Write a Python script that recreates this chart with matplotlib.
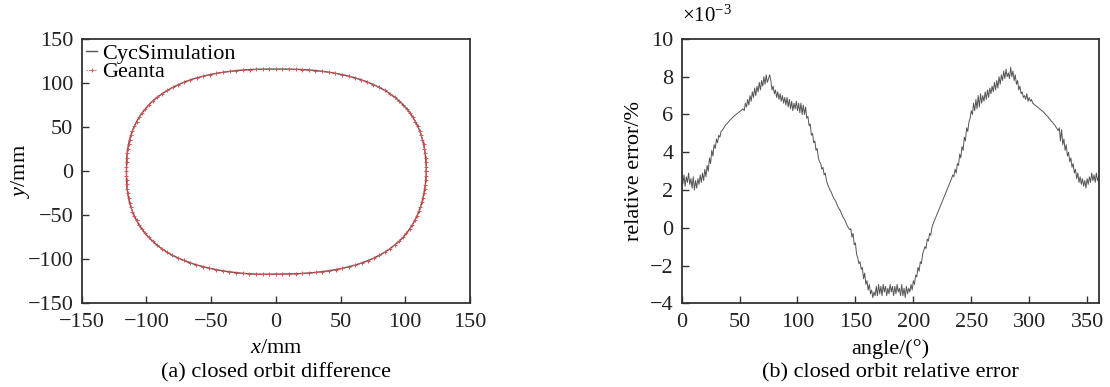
import numpy as np
import matplotlib
matplotlib.use("Agg")
import matplotlib.pyplot as plt

plt.rcParams['font.family'] = ['Liberation Serif', 'DejaVu Serif']
plt.rcParams['mathtext.fontset'] = 'custom'
plt.rcParams['mathtext.rm'] = 'Liberation Serif'
plt.rcParams['mathtext.it'] = 'Liberation Serif:italic'
plt.rcParams['axes.unicode_minus'] = True

# closed orbit radius (mm) every 2.5 degrees, 0 .. 357.5
orbit_theta = np.arange(0, 360, 2.5)
orbit_r = [
    116.2, 116.3, 116.4, 116.7, 117.1, 117.6, 118.2, 118.8, 119.5, 120.2,
    120.9, 121.6, 122.3, 122.9, 123.4, 123.8, 124.2, 124.4, 124.5, 124.4,
    124.2, 123.8, 123.4, 122.9, 122.3, 121.6, 120.9, 120.2, 119.5, 118.8,
    118.2, 117.6, 117.1, 116.6, 116.2, 115.9, 115.8, 115.9, 116.2, 116.6,
    117.0, 117.5, 118.1, 118.7, 119.4, 120.1, 120.8, 121.5, 122.2, 122.8,
    123.3, 123.7, 124.0, 124.2, 124.3, 124.2, 124.0, 123.6, 123.1, 122.6,
    122.0, 121.3, 120.6, 119.9, 119.2, 118.5, 117.8, 117.2, 116.7, 116.2,
    115.8, 115.5, 115.4, 115.5, 115.8, 116.2, 116.7, 117.2, 117.8, 118.5,
    119.2, 119.9, 120.6, 121.3, 122.0, 122.6, 123.2, 123.7, 124.1, 124.4,
    124.6, 124.6, 124.5, 124.2, 123.8, 123.3, 122.8, 122.2, 121.6, 121.0,
    120.4, 119.8, 119.3, 118.8, 118.3, 117.9, 117.5, 117.1, 116.9, 116.9,
    117.1, 117.5, 117.9, 118.4, 119.0, 119.6, 120.3, 121.0, 121.7, 122.4,
    123.0, 123.6, 124.0, 124.4, 124.6, 124.7, 124.6, 124.4, 124.1, 123.7,
    123.1, 122.5, 121.8, 121.1, 120.3, 119.6, 118.9, 118.3, 117.7, 117.2,
    116.8, 116.5, 116.3, 116.2,
]

# relative error of the closed orbit (x1e-3 %), one value per degree 0 .. 360
angle = np.arange(0, 361)
rel_err = [
    2.9, 2.3, 2.8, 2.2, 2.7, 2.4, 2.9, 2.3, 2.6, 2.1,
    2.7, 2.0, 2.5, 2.1, 2.6, 2.3, 2.8, 2.4, 2.9, 2.5,
    3.1, 2.7, 3.3, 3.0, 3.7, 3.4, 4.1, 3.8, 4.4, 4.2,
    4.7, 4.5, 4.9, 4.8, 5.1, 5.15, 5.25, 5.35, 5.45, 5.5,
    5.58, 5.65, 5.72, 5.78, 5.84, 5.9, 5.95, 6.0, 6.05, 6.1,
    6.15, 6.2, 6.25, 6.3, 6.2, 6.6, 6.4, 6.8, 6.5, 7.0,
    6.7, 7.2, 6.9, 7.4, 7.0, 7.5, 7.2, 7.7, 7.3, 7.8,
    7.5, 8.0, 7.6, 8.1, 7.7, 7.9, 8.1, 7.8, 7.3, 7.5,
    7.1, 7.3, 6.9, 7.2, 6.8, 7.1, 6.7, 7.0, 6.6, 6.9,
    6.5, 6.9, 6.4, 6.8, 6.3, 6.7, 6.2, 6.6, 6.3, 6.7,
    6.2, 6.6, 6.1, 6.6, 6.0, 6.5, 6.0, 6.4, 5.8, 5.9,
    5.4, 5.5, 4.9, 5.0, 4.5, 4.6, 4.1, 4.2, 3.7, 3.5,
    3.4, 3.1, 3.2, 2.8, 2.9, 2.5, 2.3, 2.15, 2.0, 1.9,
    1.75, 1.6, 1.5, 1.4, 1.25, 1.1, 1.0, 0.9, 0.75, 0.6,
    0.5, 0.4, 0.25, 0.1, 0.0, -0.1, -0.05, -0.5, -0.3, -0.9,
    -0.8, -1.4, -1.6, -1.9, -1.8, -2.2, -2.1, -2.7, -2.4, -3.0,
    -2.8, -3.3, -3.0, -3.5, -3.3, -3.7, -3.4, -3.6, -3.1, -3.6,
    -3.0, -3.5, -3.1, -3.6, -3.0, -3.4, -3.1, -3.6, -3.2, -3.5,
    -3.0, -3.4, -3.1, -3.6, -3.1, -3.5, -3.0, -3.4, -3.2, -3.6,
    -3.0, -3.6, -3.2, -3.7, -3.1, -3.5, -3.2, -3.4, -3.0, -3.3,
    -2.8, -3.0, -2.5, -2.6, -2.1, -2.3, -1.8, -1.9, -1.4, -1.2,
    -1.0, -1.1, -0.6, -0.7, -0.3, -0.4, 0.0, 0.2, 0.35, 0.5,
    0.65, 0.8, 0.95, 1.1, 1.25, 1.4, 1.55, 1.7, 1.85, 2.0,
    2.15, 2.3, 2.45, 2.6, 2.8, 2.7, 3.1, 2.9, 3.4, 3.3,
    3.9, 3.7, 4.3, 4.1, 4.8, 4.6, 5.3, 5.1, 5.6, 5.8,
    6.2, 6.0, 6.6, 6.2, 6.8, 6.3, 7.0, 6.4, 7.1, 6.6,
    7.0, 6.7, 7.2, 6.8, 7.3, 6.9, 7.4, 7.1, 7.5, 7.2,
    7.7, 7.3, 7.8, 7.4, 8.0, 7.6, 8.1, 7.8, 8.3, 7.9,
    8.4, 8.0, 8.2, 7.9, 8.5, 8.0, 8.3, 7.8, 8.1, 7.6,
    7.8, 7.3, 7.5, 7.1, 7.2, 6.9, 7.0, 6.8, 7.1, 6.7,
    6.9, 6.7, 6.8, 6.6, 6.55, 6.5, 6.45, 6.4, 6.35, 6.3,
    6.25, 6.2, 6.15, 6.1, 6.0, 5.95, 5.9, 5.8, 5.75, 5.65,
    5.6, 5.5, 5.45, 5.35, 5.25, 5.15, 5.3, 4.6, 5.2, 4.4,
    4.7, 4.1, 4.4, 3.8, 4.0, 3.5, 3.7, 3.2, 3.4, 2.9,
    3.1, 2.6, 2.9, 2.4, 2.7, 2.3, 2.6, 2.2, 2.5, 2.1,
    2.6, 2.3, 2.7, 2.4, 2.9, 2.5, 2.8, 2.4, 2.9, 2.5,
    2.7,
]

xy_ticks = [-150, -100, -50, 0, 50, 100, 150]
angle_ticks = [0, 50, 100, 150, 200, 250, 300, 350]
err_ticks = [-4, -2, 0, 2, 4, 6, 8, 10]

FS = 16
SPINE = '#333333'


def style_axes(ax):
    for s in ax.spines.values():
        s.set_color(SPINE)
        s.set_linewidth(1.3)
    ax.tick_params(direction='in', length=5, width=1.0, colors=SPINE,
                   labelcolor='#222222', labelsize=FS,
                   top=False, right=False)
    ax.tick_params(axis='x', pad=7)
    ax.tick_params(axis='y', pad=6)


fig = plt.figure(figsize=(11.1, 3.87), dpi=100)

# (a) closed orbit comparison
ax1 = fig.add_axes([0.0736, 0.2163, 0.3498, 0.683])
th = np.deg2rad(np.append(orbit_theta, 360.0))
r = np.append(orbit_r, orbit_r[0])
ox = r * np.cos(th)
oy = r * np.sin(th)
ax1.plot(ox, oy, color='#555555', lw=1.0, label='CycSimulation')
ax1.plot(ox, oy, color='#e05050', lw=0.8, ls=':', marker='+',
         markersize=3, markeredgewidth=0.7, label='Geanta')
ax1.set_xlim(-150, 150)
ax1.set_ylim(-150, 150)
ax1.set_xticks(xy_ticks)
ax1.set_yticks(xy_ticks)
style_axes(ax1)
ax1.set_xlabel(r'$x$/mm', fontsize=FS, labelpad=5)
ax1.set_ylabel(r'$y$/mm', fontsize=FS, labelpad=-3)
ax1.legend(loc='upper left', frameon=False, fontsize=FS,
           handlelength=0.5, handletextpad=0.2, labelspacing=-0.1,
           borderaxespad=0.1, borderpad=0.1)
ax1.text(0.5, -0.262, '(a) closed orbit difference', transform=ax1.transAxes,
         ha='center', va='center', fontsize=FS)

# (b) relative error along the orbit
ax2 = fig.add_axes([0.6141, 0.2163, 0.3757, 0.683])
ax2.plot(angle, np.array(rel_err) * 1e-3, color='#555555', lw=0.7)
ax2.set_xlim(0, 360)
ax2.set_ylim(-4e-3, 10e-3)
ax2.set_xticks(angle_ticks)
ax2.set_yticks(np.array(err_ticks) * 1e-3)
ax2.set_yticklabels([str(t).replace('-', '\u2212') for t in err_ticks])
style_axes(ax2)
ax2.set_xlabel('angle/(°)', fontsize=FS, labelpad=5)
ax2.set_ylabel('relative error/%', fontsize=FS, labelpad=4)
ax2.text(0.0, 1.045, r'$\times$10$^{-3}$', transform=ax2.transAxes,
         ha='left', va='bottom', fontsize=FS - 1)
ax2.text(0.5, -0.262, '(b) closed orbit relative error',
         transform=ax2.transAxes, ha='center', va='center', fontsize=FS)

fig.savefig('out.png', dpi=100, facecolor='white')
